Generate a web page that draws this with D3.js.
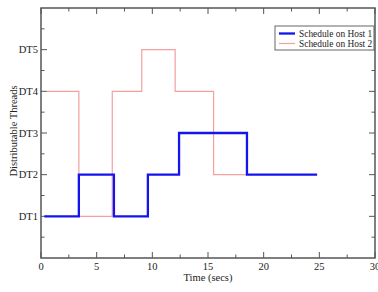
<!DOCTYPE html>
<html>
<head>
<meta charset="utf-8">
<script src="https://cdn.jsdelivr.net/npm/d3@7"></script>
<style>
  body { margin: 0; background: #fff; }
  svg { display: block; font-family: "Liberation Serif", "DejaVu Serif", serif; }
</style>
</head>
<body>
<div id="chart"></div>
<script>
// step schedules
const host1Times = [0.3, 3.4, 6.55, 9.6, 12.4, 18.5, 24.8];
const host1Levels = [1, 2, 1, 2, 3, 2, 2];
const host2Times = [0.5, 3.4, 6.4, 9.05, 12.05, 15.5, 18.5];
const host2Levels = [4, 1, 4, 5, 4, 2, 2];

const xTicks = [0, 5, 10, 15, 20, 25, 30];
const yTickLabels = ['DT1', 'DT2', 'DT3', 'DT4', 'DT5'];
const seriesNames = ['Schedule on Host 1', 'Schedule on Host 2'];

const width = 378;
const height = 292;
const margin = { top: 8, right: 3, bottom: 34, left: 41 };

const svg = d3.select('#chart')
  .append('svg')
  .attr('width', width)
  .attr('height', height);

const x = d3.scaleLinear().domain([0, 30]).range([margin.left, width - margin.right]);
const y = d3.scaleLinear().domain([0, 6]).range([height - margin.bottom, margin.top]);

const frameColor = '#555';
const host1Color = '#1414ee';
const host2Color = '#f4a0a0';

// ticks, all pointing inward on every side
const xMinor = d3.range(2.5, 30, 5);
const yMinor = d3.range(0.5, 6, 1);
const yMajor = [1, 2, 3, 4, 5];

const g = svg.append('g').attr('stroke', frameColor).attr('stroke-width', 1);

function tickX(vals, len) {
  vals.forEach(v => {
    g.append('line').attr('x1', x(v)).attr('x2', x(v))
      .attr('y1', y(0)).attr('y2', y(0) - len);
    g.append('line').attr('x1', x(v)).attr('x2', x(v))
      .attr('y1', y(6)).attr('y2', y(6) + len);
  });
}
function tickY(vals, len) {
  vals.forEach(v => {
    g.append('line').attr('y1', y(v)).attr('y2', y(v))
      .attr('x1', x(0)).attr('x2', x(0) + len);
    g.append('line').attr('y1', y(v)).attr('y2', y(v))
      .attr('x1', x(30)).attr('x2', x(30) - len);
  });
}
tickX(xTicks, 6);
tickX(xMinor, 3.5);
tickY(yMajor, 6);
tickY(yMinor, 3.5);

svg.append('rect')
  .attr('x', x(0)).attr('y', y(6))
  .attr('width', x(30) - x(0)).attr('height', y(0) - y(6))
  .attr('fill', 'none').attr('stroke', frameColor).attr('stroke-width', 1.5);

// tick labels
svg.append('g').selectAll('text')
  .data(xTicks)
  .enter().append('text')
  .attr('x', d => x(d))
  .attr('y', 269.5)
  .attr('text-anchor', 'middle')
  .attr('font-size', 10.5)
  .attr('fill', '#222')
  .text(d => d);

svg.append('g').selectAll('text')
  .data(yMajor)
  .enter().append('text')
  .attr('x', x(0) - 3)
  .attr('y', d => y(d) + 3.5)
  .attr('text-anchor', 'end')
  .attr('font-size', 10.5)
  .attr('fill', '#222')
  .text((d, i) => yTickLabels[i]);

// axis titles
svg.append('text')
  .attr('x', (x(0) + x(30)) / 2)
  .attr('y', 281)
  .attr('text-anchor', 'middle')
  .attr('font-size', 10.5)
  .attr('fill', '#222')
  .text('Time (secs)');

svg.append('text')
  .attr('transform', `translate(17,${(y(0) + y(6)) / 2 - 2}) rotate(-90)`)
  .attr('text-anchor', 'middle')
  .attr('font-size', 10.5)
  .attr('fill', '#222')
  .text('Distributable Threads');

// step lines
const line = d3.line()
  .x(d => x(d[0]))
  .y(d => y(d[1]))
  .curve(d3.curveStepAfter);

svg.append('path')
  .datum(d3.zip(host2Times, host2Levels))
  .attr('d', line)
  .attr('fill', 'none')
  .attr('stroke', host2Color)
  .attr('stroke-width', 1.2);

svg.append('path')
  .datum(d3.zip(host1Times, host1Levels))
  .attr('d', line)
  .attr('fill', 'none')
  .attr('stroke', host1Color)
  .attr('stroke-width', 2.3);

// legend
const legend = svg.append('g').attr('transform', 'translate(275,26)');
legend.append('rect')
  .attr('width', 99).attr('height', 24)
  .attr('fill', '#fff').attr('stroke', '#666').attr('stroke-width', 1);
const legendColors = [host1Color, host2Color];
const legendWidths = [2.3, 1.2];
seriesNames.forEach((name, i) => {
  legend.append('line')
    .attr('x1', 4).attr('x2', 20)
    .attr('y1', 7.5 + i * 10).attr('y2', 7.5 + i * 10)
    .attr('stroke', legendColors[i]).attr('stroke-width', legendWidths[i]);
  legend.append('text')
    .attr('x', 24).attr('y', 10.5 + i * 10)
    .attr('font-size', 9.4)
    .attr('fill', '#222')
    .text(name);
});
</script>
</body>
</html>
